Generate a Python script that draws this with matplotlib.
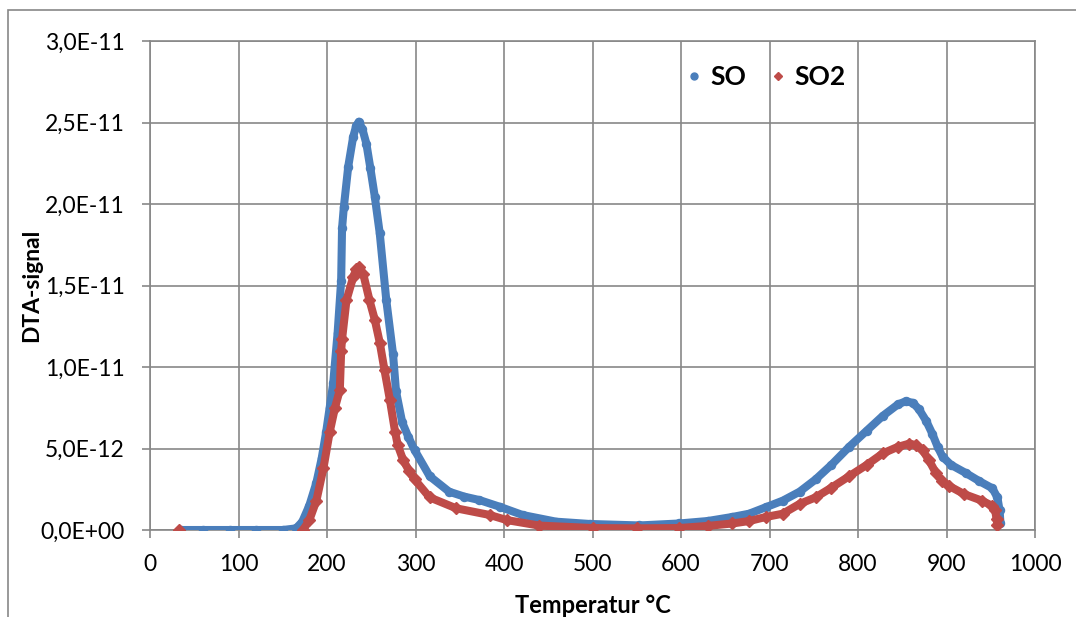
import numpy as np
import matplotlib
matplotlib.use("Agg")
import matplotlib.pyplot as plt
from matplotlib.lines import Line2D
from matplotlib.patches import Rectangle

plt.rcParams['font.family'] = ['Lato', 'DejaVu Sans']

# ---- data (temperature in °C, signal in units of 1e-11) ----
so_temp = [35, 60, 90, 120, 150, 165, 172, 180, 188, 194, 199, 203, 207, 212, 216, 217,
           219, 224, 229.5, 233, 236, 240, 244.5, 249, 254, 259.6, 267, 274.6, 278, 285,
           292, 299, 316, 338, 355, 372, 395, 421, 459, 497, 553, 598, 630, 658, 677, 696,
           715, 734, 752, 770, 790, 810, 828, 845, 854, 862, 869, 877, 884, 890, 895.5,
           905, 921.7, 937, 951.8, 957.5, 960, 961]
so_val = [0, 0, 0, 0, 0, 0.01, 0.05, 0.15, 0.29, 0.44, 0.60, 0.75, 0.90, 1.21, 1.53, 1.85,
          1.98, 2.23, 2.41, 2.48, 2.505, 2.46, 2.37, 2.22, 2.045, 1.82, 1.41, 1.08, 0.85, 0.66,
          0.57, 0.49, 0.33, 0.235, 0.205, 0.184, 0.143, 0.092, 0.051, 0.037, 0.028, 0.04, 0.055,
          0.08, 0.10, 0.14, 0.18, 0.235, 0.31, 0.40, 0.51, 0.61, 0.70, 0.77, 0.79, 0.78, 0.74,
          0.67, 0.59, 0.51, 0.45, 0.40, 0.35, 0.30, 0.256, 0.20, 0.12, 0.04]

so2_temp = [33, 100, 173, 180, 188, 196, 203, 209, 214.5, 216, 217, 222, 229.5, 233, 236,
            241, 248, 254, 259.6, 265, 271, 277, 280, 286, 293, 299, 316, 346, 384, 403, 440,
            500, 550, 598, 630, 658, 677, 696, 715, 734, 752, 770, 790, 810, 828, 845, 858,
            866, 873, 880, 888, 895, 903, 920, 940, 951, 955, 956.5, 957.5]
so2_val = [0, np.nan, 0.0, 0.06, 0.18, 0.38, 0.60, 0.75, 0.86, 1.10, 1.17, 1.41, 1.55, 1.60,
           1.615, 1.57, 1.41, 1.29, 1.15, 0.98, 0.80, 0.60, 0.52, 0.43, 0.36, 0.31, 0.20, 0.133,
           0.092, 0.061, 0.027, 0.012, 0.010, 0.012, 0.025, 0.04, 0.055, 0.08, 0.10, 0.16, 0.20,
           0.26, 0.33, 0.40, 0.47, 0.51, 0.53, 0.52, 0.49, 0.43, 0.35, 0.30, 0.27, 0.22, 0.18,
           0.15, 0.12, 0.07, 0.03]

x_ticks = [0, 100, 200, 300, 400, 500, 600, 700, 800, 900, 1000]
y_ticks = [0, 0.5e-11, 1.0e-11, 1.5e-11, 2.0e-11, 2.5e-11, 3.0e-11]
y_tick_labels = ["0,0E+00", "5,0E-12", "1,0E-11", "1,5E-11", "2,0E-11", "2,5E-11", "3,0E-11"]

series_names = ["SO", "SO2"]
blue = "#4A7EBB"
red = "#BE4B48"
grid_c = "#878787"

W, H = 1076, 617
fig = plt.figure(figsize=(W / 100, H / 100), dpi=100)
ax = fig.add_axes([150 / W, 1 - 530 / H, (1035 - 150) / W, (530 - 41) / H])

# outer chart frame
fig.patches.append(Rectangle((8 / W, -0.2), 1.5, 1.2 - 10 / H,
                             transform=fig.transFigure, fill=False,
                             edgecolor=grid_c, linewidth=1.2))

sx = np.array(so_temp)
sy = np.array(so_val) * 1e-11
rx = np.array(so2_temp)
ry = np.array(so2_val) * 1e-11

ax.plot(sx, sy, color=blue, lw=5.8, solid_capstyle='round', solid_joinstyle='round',
        marker='o', ms=5.8, mec=blue, mfc=blue, zorder=3)
ax.plot(rx, ry, color=red, lw=5.8, solid_capstyle='round', solid_joinstyle='round',
        marker='D', ms=5.8, mec=red, mfc=red, zorder=4)

ax.set_xlim(0, 1000)
ax.set_ylim(0, 3.0e-11)
ax.set_xticks(x_ticks)
ax.set_xticklabels([str(t) for t in x_ticks])
ax.set_yticks(y_ticks)
ax.set_yticklabels(y_tick_labels)
ax.grid(True, color=grid_c, lw=1.2)
ax.set_axisbelow(True)
for s in ax.spines.values():
    s.set_color(grid_c)
    s.set_linewidth(1.2)
ax.tick_params(axis='both', direction='out', length=6, width=1.2, color=grid_c,
               labelsize=16.5, labelcolor='black')
ax.tick_params(axis='x', pad=11)
ax.tick_params(axis='y', pad=12)

ax.set_ylabel("DTA-signal", fontsize=16.5, fontweight='bold', labelpad=0)
ax.yaxis.set_label_coords(-(150 - 42) / (1035 - 150), 0.5)
ax.set_xlabel("Temperatur °C", fontsize=17, fontweight='bold')
ax.xaxis.set_label_coords(0.5, -(594 - 530) / (530 - 41))

handles = [Line2D([], [], ls='none', marker='o', ms=5, color=blue),
           Line2D([], [], ls='none', marker='D', ms=4, color=red)]
leg = ax.legend(handles, series_names, ncol=2, frameon=False, loc='center left',
                bbox_to_anchor=((686 - 150) / (1035 - 150), (530 - 77) / (530 - 41)),
                prop={'size': 19, 'weight': 'bold'}, handlelength=0.6, handletextpad=0.33,
                columnspacing=0.9, borderaxespad=0, borderpad=0)

fig.savefig("out.png", dpi=100)
